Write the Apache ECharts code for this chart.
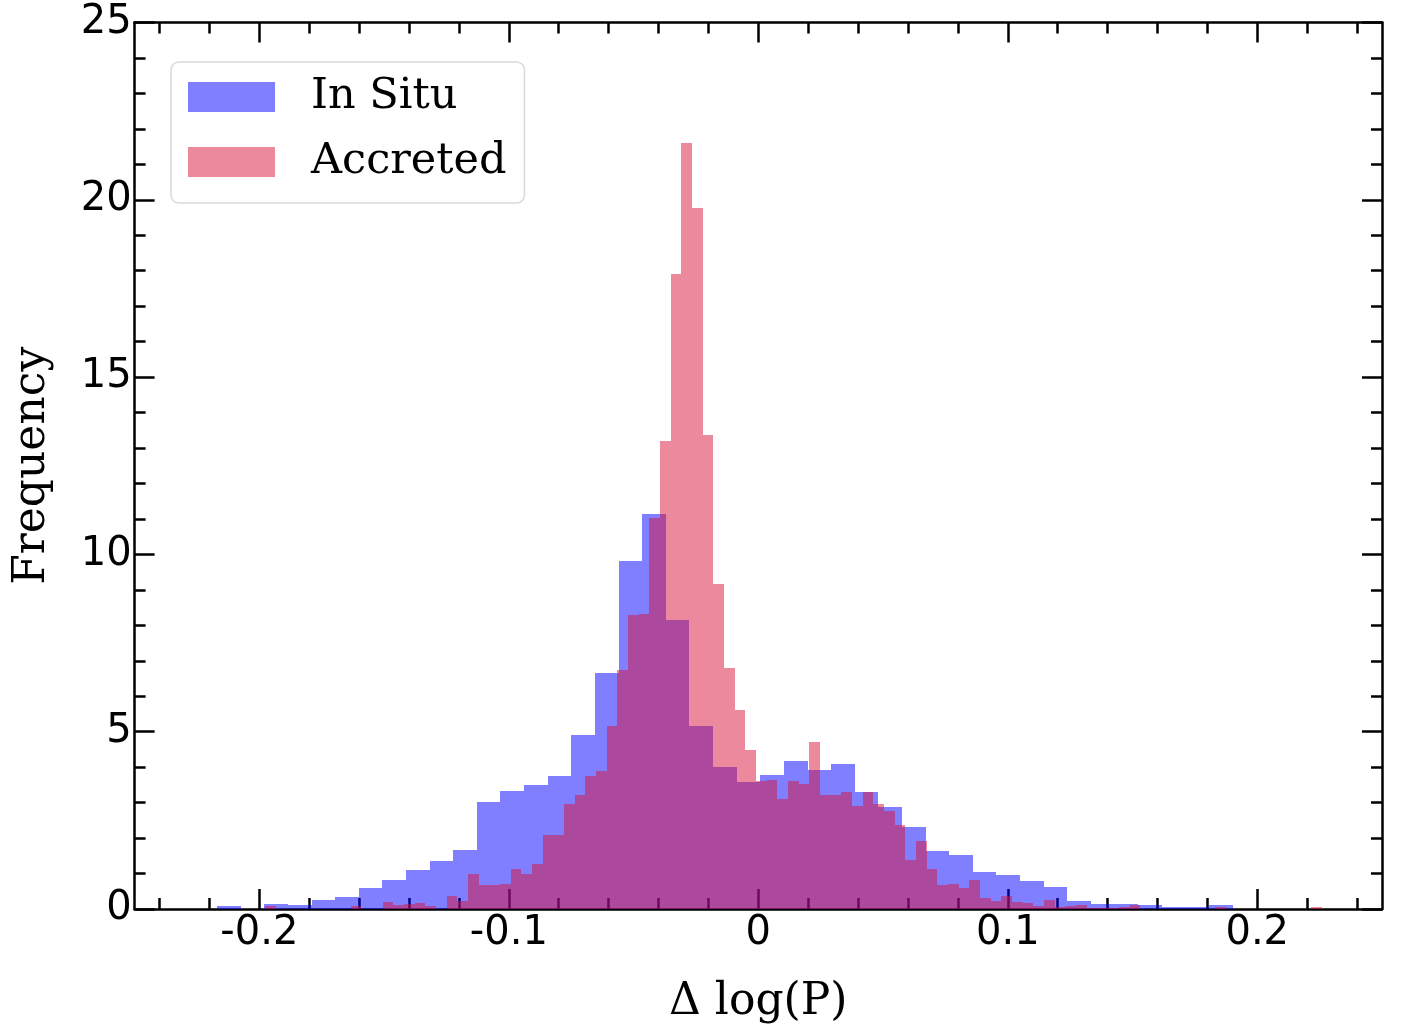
<!DOCTYPE html>
<html>
<head>
<meta charset="utf-8">
<script src="https://cdn.jsdelivr.net/npm/echarts@6/dist/echarts.min.js"></script>
<style>
html,body{margin:0;padding:0;background:#fff;}
#chart{width:1408px;height:1030px;}
</style>
</head>
<body>
<div id="chart"></div>
<script>
// ---- data ----
const seriesNames = ['In Situ', 'Accreted'];

// In Situ histogram: first bin edge, bin width, bin heights
const inSituStart = -0.21695;
const inSituWidth = 0.009467;
const inSituCounts = [0.08, 0, 0.14, 0.11, 0.26, 0.33, 0.59, 0.81, 1.09, 1.34,
  1.66, 3.03, 3.33, 3.50, 3.76, 4.91, 6.65, 9.81, 11.14, 8.14,
  5.15, 4.00, 3.57, 3.77, 4.16, 3.92, 4.10, 3.31, 2.88, 2.31,
  1.64, 1.51, 1.04, 0.95, 0.80, 0.62, 0.23, 0.15, 0.14, 0.10,
  0.07, 0.06, 0.10];

// Accreted histogram
const accretedStart = -0.19764;
const accretedWidth = 0.004277;
const accretedCounts = [0.09, 0, 0, 0, 0, 0, 0, 0, 0.08, 0,
  0, 0.20, 0.11, 0.15, 0.16, 0.08, 0, 0.37, 0.23, 0.98,
  0.67, 0.68, 0.70, 1.12, 0.98, 1.27, 2.10, 2.10, 2.97, 3.21,
  3.76, 3.88, 5.15, 6.73, 8.29, 8.32, 11.02, 13.19, 17.91, 21.59,
  19.78, 13.36, 9.16, 6.81, 5.60, 4.47, 3.60, 3.64, 3.09, 3.61,
  3.53, 4.72, 3.21, 3.21, 3.29, 2.90, 3.29, 2.97, 2.76, 2.37,
  1.39, 1.93, 1.12, 0.67, 0.71, 0.59, 0.83, 0.31, 0.23, 0.37,
  0.20, 0.16, 0.08, 0.24, 0.05, 0.08, 0.11, 0.03, 0.03, 0.03,
  0.07, 0.11, 0, 0, 0, 0, 0, 0, 0, 0.07,
  0, 0, 0, 0, 0, 0, 0, 0, 0.07];

// tick values and labels
const xMajorTicks = [-0.2, -0.1, 0, 0.1, 0.2];
const xMajorLabels = ['-0.2', '-0.1', '0', '0.1', '0.2'];
const xMinorTicks = [-0.24, -0.22, -0.18, -0.16, -0.14, -0.12, -0.08, -0.06, -0.04, -0.02,
  0.02, 0.04, 0.06, 0.08, 0.12, 0.14, 0.16, 0.18, 0.22, 0.24];

// ---- build ----
function toBins(start, width, counts) {
  return counts.map((c, i) => [start + i * width, start + (i + 1) * width, c]);
}
const colors = ['rgba(0,0,255,0.5)', 'rgba(220,20,60,0.5)'];

function renderBar(params, api) {
  const x0 = api.value(0), x1 = api.value(1), y = api.value(2);
  if (!(y > 0)) return null;
  const p0 = api.coord([x0, y]);
  const p1 = api.coord([x1, 0]);
  const left = Math.round(p0[0]), right = Math.round(p1[0]);
  const top = Math.round(p0[1]), bottom = p1[1];
  return {
    type: 'rect',
    shape: { x: left, y: top, width: right - left, height: bottom - top },
    style: { fill: api.visual('color') }
  };
}

const tickFont = { fontFamily: 'DejaVu Sans', fontSize: 40, color: '#000' };
const lineStyle = { color: '#000', width: 2.5 };
const nameFont = { fontFamily: 'DejaVu Serif', fontSize: 44, color: '#000' };

const labelMap = {};
xMajorTicks.forEach((v, i) => { labelMap[v.toFixed(2)] = xMajorLabels[i]; });

function xAxisDef(pos, major, showLine, showLabel) {
  return {
    type: 'value', position: pos, min: -0.25, max: 0.25,
    splitLine: { show: false },
    axisLine: { show: showLine, onZero: false, lineStyle: lineStyle },
    axisTick: { show: true, inside: true, length: major ? 20 : 11,
      customValues: major ? xMajorTicks : xMinorTicks, lineStyle: lineStyle },
    axisLabel: showLabel ? Object.assign({ show: true, customValues: xMajorTicks, margin: 5,
      formatter: v => labelMap[Number(v).toFixed(2)] }, tickFont) : { show: false },
    name: showLabel ? 'Δ log(P)' : '',
    nameLocation: 'middle', nameGap: 72,
    nameTextStyle: nameFont
  };
}
function yAxisDef(pos, showLabel) {
  return {
    type: 'value', position: pos, min: 0, max: 25, interval: 5,
    splitLine: { show: false },
    axisLine: { show: true, onZero: false, lineStyle: lineStyle },
    axisTick: { show: true, inside: true, length: 20, lineStyle: lineStyle },
    minorTick: { show: true, splitNumber: 5, length: 11, lineStyle: lineStyle },
    minorSplitLine: { show: false },
    axisLabel: showLabel ? Object.assign({ show: true, margin: 3 }, tickFont) : { show: false },
    name: showLabel ? 'Frequency' : '',
    nameLocation: 'middle', nameGap: 80,
    nameTextStyle: nameFont
  };
}

const chart = echarts.init(document.getElementById('chart'), null, { renderer: 'canvas' });
chart.setOption({
  animation: false,
  backgroundColor: '#fff',
  grid: { left: 134.6, right: 26, top: 22.5, bottom: 119.5, containLabel: false },
  legend: {
    data: seriesNames,
    left: 171, top: 62, orient: 'vertical',
    icon: 'rect', itemWidth: 87, itemHeight: 30, itemGap: 17,
    padding: [11, 18, 17, 17],
    backgroundColor: 'rgba(255,255,255,0.8)',
    borderColor: '#d9d9d9', borderWidth: 1.5, borderRadius: 8,
    textStyle: { fontFamily: 'DejaVu Serif', fontSize: 43, color: '#000', lineHeight: 43, padding: [5, 0, 0, 31] }
  },
  xAxis: [
    xAxisDef('bottom', true, true, true),
    xAxisDef('bottom', false, false, false),
    xAxisDef('top', true, true, false),
    xAxisDef('top', false, false, false)
  ],
  yAxis: [
    yAxisDef('left', true),
    yAxisDef('right', false)
  ],
  series: [
    { name: seriesNames[0], type: 'custom', xAxisIndex: 0, yAxisIndex: 0,
      itemStyle: { color: colors[0] }, renderItem: renderBar,
      encode: { x: [0, 1], y: 2 },
      data: toBins(inSituStart, inSituWidth, inSituCounts) },
    { name: seriesNames[1], type: 'custom', xAxisIndex: 0, yAxisIndex: 0,
      itemStyle: { color: colors[1] }, renderItem: renderBar,
      encode: { x: [0, 1], y: 2 },
      data: toBins(accretedStart, accretedWidth, accretedCounts) }
  ]
});
</script>
</body>
</html>
